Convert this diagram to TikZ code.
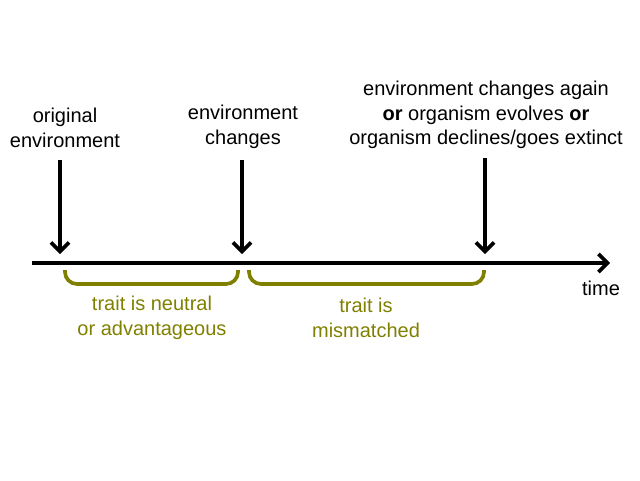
\documentclass[tikz,border=0pt]{standalone}
\usepackage{fontspec}
\setmainfont{Liberation Sans}
\usetikzlibrary{arrows.meta}
\definecolor{olv}{RGB}{128,128,0}
\begin{document}
\begin{tikzpicture}[x=1pt,y=-1pt,
  lbl/.style={align=center,font=\fontsize{20}{24.5}\selectfont,inner sep=0pt},
  tlbl/.style={lbl,text=olv},
  arr/.style={line width=3.7pt,-{Straight Barb[length=9pt,width=18pt,line width=3.7pt]}},
  brk/.style={olv,line width=3.7pt,rounded corners=12pt}]
\useasboundingbox (0,0) rectangle (640,480);
\coordinate (L) at (32,263);
\coordinate (R) at (610,263);
\draw[arr] (L) -- (R);
\node[lbl] (t1) at (65,128) {original\\environment};
\node[lbl] (t2) at (243,127) {environment\\changes};
\node[lbl] (t3) at (486,115) {environment changes again\\\textbf{or} organism evolves \textbf{or}\\organism declines/goes extinct};
\node[lbl] (time) at (601,288) {time};
\coordinate (a1) at (60,254);
\coordinate (a2) at (242,254);
\coordinate (a3) at (485,254);
\draw[arr] (60,160) -- (a1);
\draw[arr] (242,160) -- (a2);
\draw[arr] (485,158) -- (a3);
\draw[brk] (65,270) -- (65,284) -- (238,284) -- (238,270);
\draw[brk] (249,270) -- (249,284) -- (484,284) -- (484,270);
\node[tlbl] (b1) at (152,318) {trait is neutral\\or advantageous};
\node[tlbl] (b2) at (366,318) {trait is\\mismatched};
\end{tikzpicture}
\end{document}
